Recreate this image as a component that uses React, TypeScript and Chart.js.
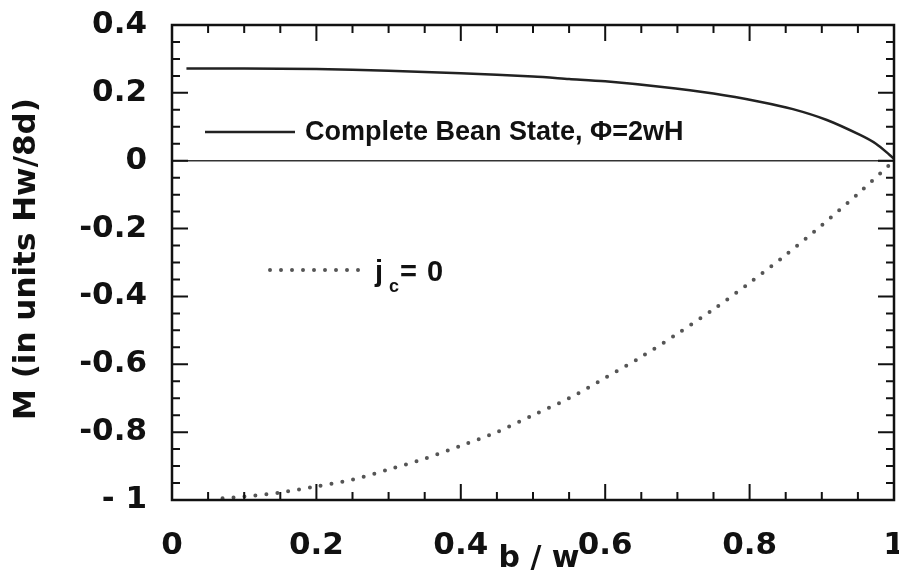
import React, { useEffect, useRef } from "react";
import { Chart, registerables } from "chart.js";

Chart.register(...registerables);

// Complete Bean State curve (solid)
const beanB = [0.02, 0.1, 0.2, 0.3, 0.4, 0.5, 0.55, 0.6, 0.676, 0.75, 0.814, 0.86, 0.907, 0.953, 0.975, 0.994, 1.0];
const beanM = [0.272, 0.272, 0.27, 0.265, 0.258, 0.248, 0.241, 0.234, 0.218, 0.198, 0.174, 0.152, 0.12, 0.076, 0.05, 0.017, 0.005];

// j_c = 0 curve (dotted)
const jcB = [0.07, 0.1, 0.15, 0.2, 0.25, 0.3, 0.35, 0.4, 0.45, 0.5, 0.55, 0.6, 0.65, 0.7, 0.75, 0.8, 0.85, 0.9, 0.95, 1.0];
const jcM = [-0.995, -0.99, -0.978, -0.96, -0.94, -0.91, -0.878, -0.84, -0.8, -0.75, -0.7, -0.64, -0.578, -0.51, -0.438, -0.36, -0.278, -0.19, -0.098, 0.0];

const xTickValues = [0, 0.2, 0.4, 0.6, 0.8, 1];
const xTickLabels = ["0", "0.2", "0.4", "0.6", "0.8", "1"];
const yTickValues = [-1, -0.8, -0.6, -0.4, -0.2, 0, 0.2, 0.4];
const yTickLabels = ["- 1", "-0.8", "-0.6", "-0.4", "-0.2", "0", "0.2", "0.4"];

const legendBean = "Complete Bean State, \u03A6=2wH";
const yTitle = "M (in units Hw/8d)";
const xTitle = "b / w";

const INK = "#111";
const TICK_FONT = { family: "'DejaVu Sans', sans-serif", size: 31, weight: "bold" as const };

function labelFor(values: number[], labels: string[], v: number) {
  for (let i = 0; i < values.length; i++) {
    if (Math.abs(values[i] - v) < 1e-6) return labels[i];
  }
  return "";
}

const framePlugin = {
  id: "frame",
  beforeDatasetsDraw(chart: any) {
    const { ctx, chartArea, scales } = chart;
    const y0 = scales.y.getPixelForValue(0);
    ctx.save();
    ctx.strokeStyle = "#333";
    ctx.lineWidth = 1.5;
    ctx.beginPath();
    ctx.moveTo(chartArea.left, y0);
    ctx.lineTo(chartArea.right, y0);
    ctx.stroke();
    ctx.restore();
  },
  afterDraw(chart: any) {
    const { ctx, chartArea, scales } = chart;
    const { left, right, top, bottom } = chartArea;
    ctx.save();
    ctx.strokeStyle = INK;
    ctx.lineWidth = 2.5;
    ctx.strokeRect(left, top, right - left, bottom - top);

    ctx.lineWidth = 2;
    // y ticks
    for (let i = -20; i <= 8; i++) {
      const v = i * 0.05;
      const py = scales.y.getPixelForValue(v);
      const len = i % 4 === 0 ? 16 : 8;
      ctx.beginPath();
      ctx.moveTo(left, py);
      ctx.lineTo(left + len, py);
      ctx.moveTo(right, py);
      ctx.lineTo(right - len, py);
      ctx.stroke();
    }
    // x ticks
    for (let i = 0; i <= 20; i++) {
      const v = i * 0.05;
      const px = scales.x.getPixelForValue(v);
      const len = i % 4 === 0 ? 16 : 8;
      ctx.beginPath();
      ctx.moveTo(px, bottom);
      ctx.lineTo(px, bottom - len);
      ctx.moveTo(px, top);
      ctx.lineTo(px, top + len);
      ctx.stroke();
    }

    // Legend: solid
    ctx.strokeStyle = "#222";
    ctx.lineWidth = 2.5;
    ctx.setLineDash([]);
    ctx.beginPath();
    ctx.moveTo(205, 132);
    ctx.lineTo(295, 132);
    ctx.stroke();
    ctx.fillStyle = INK;
    ctx.font = "bold 27px 'Liberation Sans', Arial, sans-serif";
    ctx.textBaseline = "middle";
    ctx.textAlign = "left";
    ctx.fillText(legendBean, 305, 133);

    // Legend: dotted
    ctx.strokeStyle = "#555";
    ctx.lineWidth = 4;
    ctx.lineCap = "round";
    ctx.setLineDash([0, 11]);
    ctx.beginPath();
    ctx.moveTo(270, 270);
    ctx.lineTo(362, 270);
    ctx.stroke();
    ctx.setLineDash([]);
    ctx.fillStyle = INK;
    ctx.textBaseline = "alphabetic";
    ctx.font = "bold 29px 'Liberation Sans', Arial, sans-serif";
    ctx.fillText("j", 375, 281);
    ctx.font = "bold 18px 'Liberation Sans', Arial, sans-serif";
    ctx.fillText("c", 389, 292);
    ctx.font = "bold 29px 'Liberation Sans', Arial, sans-serif";
    ctx.fillText("=", 400, 281);
    ctx.fillText("0", 427, 281);

    // Axis titles
    ctx.font = "bold 30px 'DejaVu Sans', sans-serif";
    ctx.textAlign = "center";
    ctx.textBaseline = "middle";
    ctx.fillText(xTitle, 539, 559);

    ctx.save();
    ctx.translate(27, 259);
    ctx.rotate(-Math.PI / 2);
    ctx.font = "bold 31px 'DejaVu Sans', sans-serif";
    ctx.fillText(yTitle, 0, 0);
    ctx.restore();

    ctx.restore();
  },
};

export default function App() {
  const ref = useRef<HTMLCanvasElement | null>(null);
  useEffect(() => {
    if (!ref.current) return;
    const chart = new Chart(ref.current, {
      type: "line",
      data: {
        datasets: [
          {
            label: legendBean,
            data: beanB.map((b, i) => ({ x: b, y: beanM[i] })),
            borderColor: "#222",
            borderWidth: 2.5,
            pointRadius: 0,
            tension: 0.3,
            fill: false,
          },
          {
            label: "j_c = 0",
            data: jcB.map((b, i) => ({ x: b, y: jcM[i] })),
            borderColor: "#555",
            borderWidth: 4,
            borderDash: [0, 11],
            borderCapStyle: "round",
            pointRadius: 0,
            tension: 0.3,
            fill: false,
          },
        ],
      },
      options: {
        animation: false,
        responsive: false,
        devicePixelRatio: 1,
        layout: { padding: { top: 25, right: 5, left: 0, bottom: 0 } },
        plugins: { legend: { display: false }, tooltip: { enabled: false } },
        scales: {
          x: {
            type: "linear",
            min: 0,
            max: 1,
            afterBuildTicks: (s: any) => {
              s.ticks = xTickValues.map((v) => ({ value: v }));
            },
            ticks: {
              font: TICK_FONT,
              color: INK,
              padding: 27,
              maxRotation: 0,
              autoSkip: false,
              callback: (v: any) => labelFor(xTickValues, xTickLabels, Number(v)),
            },
            grid: { display: false, drawTicks: false },
            border: { display: false },
            afterFit: (s: any) => {
              s.height = 79;
              s.paddingLeft = 0;
              s.paddingRight = 0;
            },
          },
          y: {
            type: "linear",
            min: -1,
            max: 0.4,
            afterBuildTicks: (s: any) => {
              s.ticks = yTickValues.map((v) => ({ value: v }));
            },
            ticks: {
              font: TICK_FONT,
              color: INK,
              padding: 25,
              autoSkip: false,
              callback: (v: any) => labelFor(yTickValues, yTickLabels, Number(v)),
            },
            grid: { display: false, drawTicks: false },
            border: { display: false },
            afterFit: (s: any) => {
              s.width = 172;
              s.paddingTop = 0;
              s.paddingBottom = 0;
            },
          },
        },
      } as any,
      plugins: [framePlugin],
    });
    return () => chart.destroy();
  }, []);
  return (
    <div style={{ position: "fixed", left: 0, top: 0, width: 899, height: 579, background: "#fff" }}>
      <canvas ref={ref} width={899} height={579} style={{ display: "block" }} />
    </div>
  );
}
